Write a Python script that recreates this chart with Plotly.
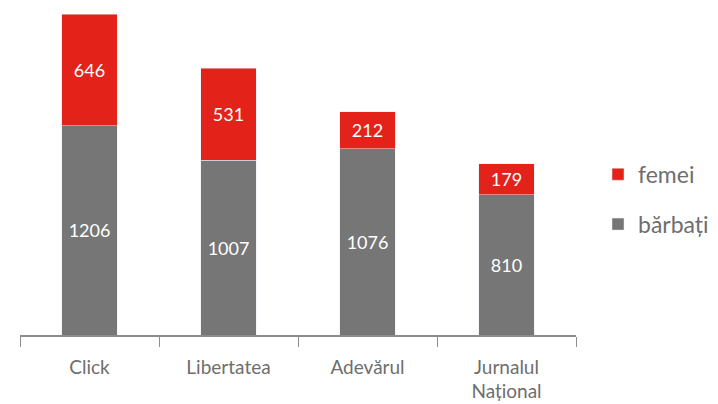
import plotly.graph_objects as go

categories = ["Click", "Libertatea", "Adevărul", "Jurnalul<br>Național"]
barbati = [1206, 1007, 1076, 810]
femei = [646, 531, 212, 179]

RED = "#E3221A"
GRAY = "#767676"
TXT = "#6E6E6E"
FONT = "Lato, 'Gill Sans', sans-serif"

fig = go.Figure()
fig.add_trace(go.Bar(
    x=categories, y=barbati, name="bărbați", marker_color=GRAY,
    text=barbati, textposition="inside", insidetextanchor="middle",
    textfont=dict(color="white", size=18, family=FONT),
    width=0.4, legendgroup="b", legendrank=2, constraintext="none",
))
fig.add_trace(go.Bar(
    x=categories, y=femei, name="femei", marker_color=RED,
    text=femei, textposition="inside", insidetextanchor="middle",
    textfont=dict(color="white", size=18, family=FONT),
    width=0.4, legendgroup="f", legendrank=1, constraintext="none",
))

fig.update_layout(
    barmode="stack",
    width=710, height=396,
    margin=dict(l=12, r=142, t=6, b=69),
    paper_bgcolor="white", plot_bgcolor="white",
    font=dict(family=FONT, color=TXT, size=18),
    showlegend=True,
    legend=dict(
        traceorder="grouped", xref="container", yref="container",
        x=0.831, y=0.517, xanchor="left", yanchor="middle",
        font=dict(size=23, color=TXT, family=FONT),
        tracegroupgap=17, borderwidth=0,
    ),
    xaxis=dict(
        showline=True, linecolor="#8C8C8C", linewidth=1.5,
        ticks="outside", tickson="boundaries", ticklen=10, tickcolor="#8C8C8C",
        tickfont=dict(size=19, color=TXT), fixedrange=True,
        ticklabelstandoff=14, automargin=False,
    ),
    yaxis=dict(
        range=[0, 1852], visible=False, showgrid=False, zeroline=False,
    ),
)

fig.write_html("out.html")
